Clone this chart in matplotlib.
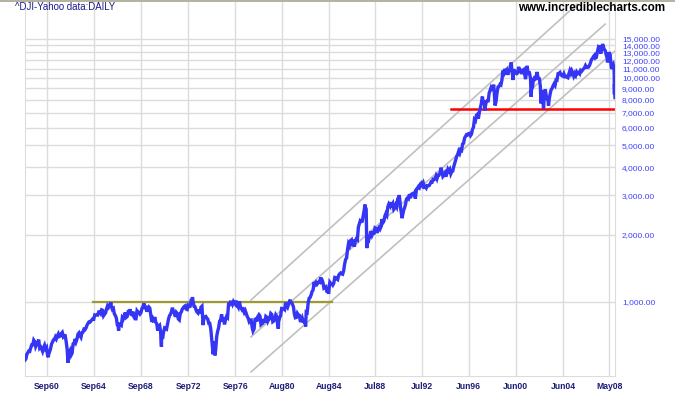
import matplotlib
matplotlib.use('Agg')
import matplotlib.pyplot as plt
import matplotlib.dates as mdates
from matplotlib.lines import Line2D
from matplotlib.ticker import FixedLocator, FuncFormatter
import pandas as pd

plt.rcParams['font.family'] = ['Liberation Sans', 'DejaVu Sans']

# ---- data: Dow Jones Industrial Average, month-end closes from Nov 1958 ----
dji_monthly = [
    557, 584,
    594, 604, 602, 624, 644, 644, 675, 664, 632, 647, 659, 679,
    623, 630, 617, 602, 626, 641, 617, 626, 580, 580, 597, 616,
    648, 662, 677, 679, 697, 684, 705, 720, 701, 704, 722, 731,
    700, 708, 707, 665, 613, 561, 598, 609, 579, 590, 649, 652,
    683, 663, 683, 718, 727, 707, 695, 729, 733, 755, 751, 763,
    785, 800, 813, 811, 821, 832, 841, 838, 875, 873, 875, 874,
    903, 903, 889, 922, 918, 868, 882, 893, 931, 961, 947, 969,
    984, 952, 925, 934, 884, 870, 847, 788, 774, 807, 792, 786,
    850, 839, 866, 897, 853, 860, 904, 901, 927, 880, 876, 905,
    855, 841, 841, 912, 899, 898, 883, 896, 936, 952, 985, 944,
    946, 905, 935, 950, 938, 873, 815, 837, 813, 856, 812, 800,
    744, 778, 786, 736, 700, 684, 734, 765, 761, 756, 794, 839,
    869, 879, 904, 942, 908, 891, 858, 898, 887, 839, 831, 890,
    902, 928, 941, 954, 961, 929, 925, 964, 953, 956, 1018, 1020,
    999, 955, 951, 921, 901, 892, 926, 888, 947, 957, 822, 851,
    856, 861, 847, 837, 802, 802, 757, 679, 608, 666, 619, 616,
    704, 739, 768, 821, 832, 879, 832, 835, 794, 836, 861, 852,
    975, 973, 999, 997, 975, 1003, 985, 974, 990, 965, 947, 1005,
    954, 936, 919, 927, 899, 916, 890, 861, 847, 818, 830, 831,
    770, 742, 757, 837, 841, 819, 862, 877, 866, 792, 799, 805,
    839, 809, 862, 855, 822, 842, 846, 888, 879, 816, 822, 839,
    876, 863, 786, 817, 851, 868, 935, 933, 932, 924, 993, 964,
    947, 975, 1004, 998, 992, 977, 952, 881, 850, 853, 889, 875,
    871, 824, 823, 848, 820, 812, 809, 901, 896, 992, 1039, 1047,
    1076, 1113, 1130, 1226, 1200, 1222, 1199, 1216, 1233, 1225, 1276, 1259,
    1221, 1155, 1165, 1171, 1105, 1132, 1115, 1224, 1207, 1207, 1189, 1212,
    1287, 1284, 1267, 1258, 1315, 1335, 1347, 1334, 1329, 1374, 1472, 1547,
    1571, 1709, 1819, 1784, 1877, 1893, 1775, 1898, 1768, 1878, 1914, 1896,
    2158, 2224, 2305, 2286, 2292, 2419, 2572, 2663, 2596, 1994, 1834, 1939,
    1958, 2072, 1988, 2032, 2031, 2142, 2129, 2032, 2113, 2149, 2115, 2169,
    2342, 2258, 2294, 2419, 2480, 2440, 2661, 2737, 2693, 2645, 2706, 2753,
    2591, 2627, 2707, 2657, 2877, 2881, 2905, 2614, 2452, 2442, 2560, 2634,
    2736, 2882, 2914, 2888, 3028, 2907, 3025, 3044, 3017, 3069, 2895, 3169,
    3223, 3268, 3235, 3359, 3397, 3319, 3394, 3257, 3272, 3226, 3305, 3301,
    3310, 3371, 3435, 3428, 3527, 3516, 3539, 3651, 3555, 3681, 3684, 3754,
    3978, 3832, 3636, 3682, 3758, 3625, 3765, 3913, 3843, 3908, 3739, 3834,
    3844, 4011, 4158, 4321, 4465, 4556, 4708, 4611, 4789, 4755, 5074, 5117,
    5395, 5486, 5587, 5569, 5643, 5655, 5529, 5616, 5882, 6029, 6522, 6448,
    6813, 6878, 6583, 7009, 7331, 7673, 8223, 7622, 7945, 7442, 7823, 7908,
    7907, 8546, 8800, 9063, 8900, 8952, 8883, 7539, 7843, 8592, 9117, 9181,
    9359, 9307, 9786, 10789, 10560, 10971, 10655, 10829, 10337, 10730, 10878, 11497,
    10941, 10128, 10922, 10734, 10522, 10448, 10522, 11215, 10651, 10971, 10414, 10787,
    10887, 10495, 9879, 10735, 10912, 10502, 10523, 9950, 8848, 9075, 9852, 10022,
    9920, 10106, 10404, 9946, 9925, 9243, 8737, 8664, 7592, 8397, 8896, 8342,
    8054, 7891, 7992, 8480, 8850, 8985, 9234, 9416, 9275, 9801, 9782, 10454,
    10488, 10584, 10358, 10226, 10188, 10435, 10140, 10174, 10080, 10027, 10428, 10783,
    10490, 10766, 10504, 10193, 10467, 10275, 10641, 10482, 10569, 10440, 10806, 10718,
    10865, 10993, 11109, 11367, 11168, 11150, 11186, 11381, 11679, 12081, 12222, 12463,
    12622, 12269, 12354, 13063, 13628, 13409, 13212, 13358, 13896, 13930, 13372, 13265,
    12650, 12266, 12263, 12820, 12638, 11350, 11378, 11544, 10851,
]
months = pd.date_range('1958-11-30', periods=len(dji_monthly), freq='ME')

# intra-month highs and lows visible on the daily line
swing_dates = [
    '1958-11-03', '1960-10-25', '1962-06-26', '1966-02-09', '1966-10-07',
    '1968-12-03', '1970-05-26', '1973-01-11', '1973-12-05', '1974-10-04',
    '1974-12-06', '1976-09-21', '1978-02-28', '1980-04-21', '1981-04-27',
    '1982-08-12', '1983-11-29', '1984-07-24', '1987-08-25', '1987-10-19',
    '1989-10-09', '1990-07-16', '1990-10-11', '1997-08-06', '1997-10-27',
    '1998-07-17', '2000-01-14', '2000-03-07', '2001-05-21', '2001-09-21',
    '2002-03-19', '2002-07-23', '2002-10-09', '2003-03-11', '2007-07-19',
    '2007-08-16', '2007-10-09', '2008-03-10', '2008-05-02', '2008-07-15',
    '2008-10-03', '2008-10-10', '2008-10-13', '2008-10-22', '2008-10-27',
]
swing_values = [
    550, 566, 535, 995, 744,
    985, 631, 1051, 788, 584,
    577, 1014, 742, 759, 1024,
    777, 1287, 1087, 2722, 1739,
    2791, 2999, 2365, 8259, 7161,
    9337, 11723, 9796, 11337, 8236,
    10635, 7702, 7286, 7524, 14000,
    12846, 14165, 11740, 13058, 10963,
    10325, 8451, 9387, 8519, 8176,
]

# trend channel (start/end date, start/end value)
channel_dates = [('1977-12-28', '2005-08-15'), ('1977-12-28', '2007-12-28'), ('1977-12-28', '2008-10-28')]
channel_values = [(1021, 21380), (698, 17400), (487, 13200)]

resistance_dates = ['1964-08-08', '1984-11-10']
resistance_value = 1000
support_dates = ['1994-12-10', '2008-10-28']
support_value = 7286

y_ticks = [1000, 2000, 3000, 4000, 5000, 6000, 7000, 8000, 9000,
           10000, 11000, 12000, 13000, 14000, 15000]
x_tick_dates = ['1960-09-01', '1964-09-01', '1968-09-01', '1972-09-01', '1976-09-01',
                '1980-08-01', '1984-08-01', '1988-07-01', '1992-07-01', '1996-06-01',
                '2000-06-01', '2004-06-01', '2008-05-01']
x_tick_labels = ['Sep60', 'Sep64', 'Sep68', 'Sep72', 'Sep76', 'Aug80', 'Aug84',
                 'Jul88', 'Jul92', 'Jun96', 'Jun00', 'Jun04', 'May08']

# merge monthly closes with the swing points
series = pd.concat([
    pd.Series(dji_monthly, index=months),
    pd.Series(swing_values, index=pd.to_datetime(swing_dates)),
]).sort_index()

fig = plt.figure(figsize=(6.75, 3.95), dpi=100)
ax = fig.add_axes([25 / 675, 19 / 395, 590 / 675, 374 / 395])
grid_c = '#dcdcdc'

ax.set_yscale('log')
ax.set_ylim(467, 21840)
ax.set_xlim(pd.Timestamp('1958-11-03'), pd.Timestamp('2008-10-28'))

# grid
for v in y_ticks:
    ax.axhline(v, color=grid_c, lw=1.0, zorder=0)
for d in x_tick_dates:
    ax.axvline(pd.Timestamp(d), color=grid_c, lw=1.0, zorder=0)

# channel lines
for (d0, d1), (v0, v1) in zip(channel_dates, channel_values):
    ax.plot([pd.Timestamp(d0), pd.Timestamp(d1)], [v0, v1], color='#c0c0c0', lw=1.2, zorder=1)

ax.plot(pd.to_datetime(resistance_dates), [resistance_value] * 2, color='#9c9a30', lw=1.6, zorder=2)
ax.plot(pd.to_datetime(support_dates), [support_value] * 2, color='#ff0000', lw=1.8, zorder=2)

ax.plot(series.index, series.values, color='#3535f5', lw=2.4, zorder=3,
        solid_joinstyle='miter')

# axes styling
for side in ['left', 'bottom', 'right']:
    ax.spines[side].set_color(grid_c)
ax.spines['top'].set_visible(False)

ax.yaxis.tick_right()
ax.yaxis.set_major_locator(FixedLocator(y_ticks))
ax.yaxis.set_minor_locator(FixedLocator([]))
ax.yaxis.set_major_formatter(FuncFormatter(lambda v, p: f'{v:,.2f}'))
ax.tick_params(axis='y', length=0, pad=5, labelsize=6, labelcolor='#4040ff')

ax.set_xticks(pd.to_datetime(x_tick_dates))
ax.set_xticklabels(x_tick_labels)
ax.tick_params(axis='x', length=0, pad=4, labelsize=6.2, labelcolor='#1c1c78')
for lab in ax.get_xticklabels():
    lab.set_fontweight('bold')

fig.text(15 / 675, 1 - 7 / 395, '^DJI-Yahoo data:DAILY', fontsize=6.9,
         color='#1a1a8c', ha='left', va='center')
fig.text(518 / 675, 1 - 8 / 395, 'www.incrediblecharts.com', fontsize=8.4,
         color='black', fontweight='bold', ha='left', va='center')

fig.add_artist(Line2D([0, 1], [1 - 0.6 / 395, 1 - 0.6 / 395], transform=fig.transFigure,
                      color='#a8a490', lw=1.2))

fig.savefig('out.png', dpi=100)
